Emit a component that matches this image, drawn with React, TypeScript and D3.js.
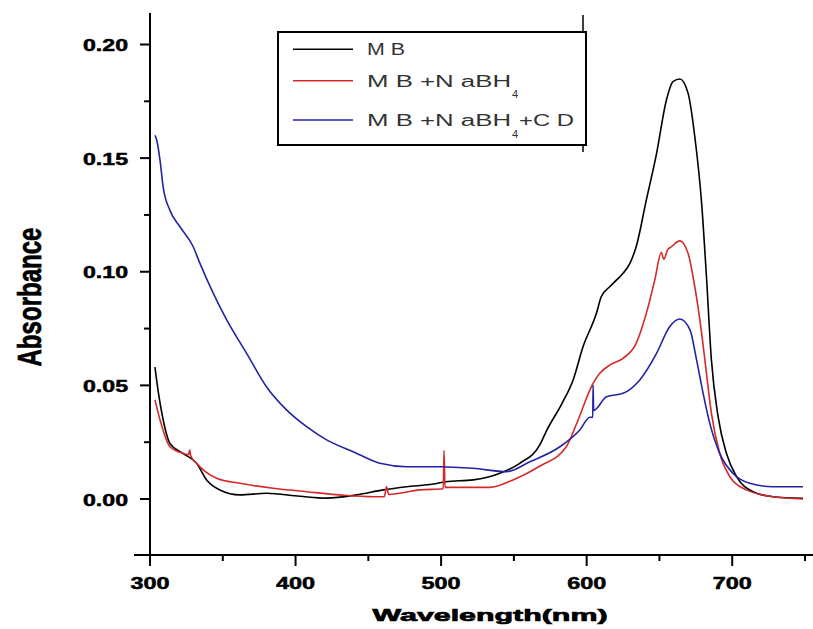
import React from "react";
import * as d3 from "d3";

// ---- data ----
const mbWave = [303.4, 305.7, 309, 313.7, 322.8, 332, 338.9, 348, 361.8, 380, 403, 421.3, 441.9, 460.2, 476.3, 494.6, 503, 522, 540.4, 554, 568, 572.4, 583, 590.7, 597.5, 606.7, 610, 616, 620.6, 625, 629.7, 634, 641, 648, 654.8, 659.3, 664, 669.7, 674.3, 679, 682.3, 685.7, 690.3, 696, 703, 714.3, 728, 748.6];
const mbAbs = [0.058, 0.047, 0.035, 0.0245, 0.02, 0.0157, 0.0084, 0.004, 0.0018, 0.0025, 0.0012, 0.0004, 0.0018, 0.004, 0.0054, 0.0066, 0.0076, 0.0084, 0.0113, 0.0157, 0.024, 0.03, 0.042, 0.0524, 0.067, 0.0817, 0.089, 0.0935, 0.0964, 0.0993, 0.1037, 0.111, 0.1316, 0.152, 0.1756, 0.1837, 0.1848, 0.1785, 0.1594, 0.13, 0.0978, 0.0612, 0.0362, 0.0201, 0.0098, 0.0032, 0.001, 0.0003];

const redWave = [303.4, 306.9, 313.7, 322.8, 326.5, 327.2, 328, 332, 345.8, 361.8, 384.6, 407.6, 430.5, 453.3, 461, 462.5, 464, 485.4, 501.5, 502, 502.7, 506, 533.5, 549.4, 568, 586, 593, 604.4, 609, 616, 625, 634, 641, 646.8, 651.3, 653, 655.5, 658.2, 664, 669.7, 674.3, 679, 682.3, 685.7, 691.4, 698.4, 709.8, 728, 748.6];
const redAbs = [0.0436, 0.0348, 0.023, 0.0201, 0.0195, 0.0215, 0.019, 0.0157, 0.0091, 0.0069, 0.0047, 0.0032, 0.0018, 0.001, 0.001, 0.0054, 0.002, 0.004, 0.0045, 0.0213, 0.0051, 0.0051, 0.0051, 0.0084, 0.0145, 0.023, 0.033, 0.0509, 0.0553, 0.059, 0.0619, 0.0685, 0.0817, 0.0964, 0.1085, 0.1055, 0.1095, 0.111, 0.1136, 0.108, 0.0934, 0.0729, 0.0553, 0.0377, 0.0201, 0.0098, 0.004, 0.001, 0.0];

const blueWave = [303.4, 304.6, 306.9, 309.1, 313.7, 320.6, 329.7, 334.3, 343.5, 352.7, 366.4, 380, 393.8, 407.6, 421.3, 439.6, 458, 476.3, 499, 521.8, 545, 561, 581.6, 595.3, 602.2, 604.2, 604.4, 604.8, 613.6, 625, 636.5, 648, 657, 664, 671, 675.5, 680, 684.6, 691.4, 700.5, 712, 728, 748.6];
const blueAbs = [0.16, 0.158, 0.149, 0.137, 0.127, 0.1198, 0.111, 0.1037, 0.0905, 0.0788, 0.0641, 0.0494, 0.0392, 0.0318, 0.026, 0.0208, 0.0157, 0.0142, 0.0142, 0.0135, 0.012, 0.0164, 0.023, 0.0304, 0.036, 0.036, 0.05, 0.039, 0.045, 0.0465, 0.0524, 0.0641, 0.0758, 0.0792, 0.0744, 0.0612, 0.0465, 0.0333, 0.0201, 0.0113, 0.0069, 0.0054, 0.0054];

const xMajorTicks = [300, 400, 500, 600, 700];
const xMinorTicks = [350, 450, 550, 650, 750];
const yMajorTicks = [0, 0.05, 0.1, 0.15, 0.2];
const yMinorTicks = [0.025, 0.075, 0.125, 0.175];
const yTickLabels = ["0.00", "0.05", "0.10", "0.15", "0.20"];

const seriesNames = ["M B", "M B +N aBH", "M B +N aBH"];
const seriesColors = ["#000000", "#d42a2a", "#2323a6"];

export default function App() {
  const x = d3.scaleLinear().domain([300, 750]).range([150, 805]);
  const y = d3.scaleLinear().domain([0, 0.2]).range([499, 44.5]);

  const line = d3
    .line<[number, number]>()
    .x((d) => x(d[0]))
    .y((d) => y(d[1]))
    .curve(d3.curveMonotoneX);

  const series = [
    mbWave.map((w, i) => [w, mbAbs[i]] as [number, number]),
    redWave.map((w, i) => [w, redAbs[i]] as [number, number]),
    blueWave.map((w, i) => [w, blueAbs[i]] as [number, number]),
  ];

  const font = "'Liberation Sans', Arial, sans-serif";
  const axisY = 555;
  const axisX = 150;

  return (
    <svg
      width={813}
      height={629}
      style={{ position: "absolute", left: 0, top: 0, background: "#fff" }}
      fontFamily={font}
    >
      <rect x={0} y={0} width={813} height={629} fill="#fff" />
      {/* axes */}
      <line x1={axisX} x2={axisX} y1={13} y2={axisY} stroke="#000" strokeWidth={2} />
      <line x1={134} x2={813} y1={axisY} y2={axisY} stroke="#000" strokeWidth={2} />

      {yMajorTicks.map((t, i) => (
        <g key={"ym" + t}>
          <line x1={axisX - 10} x2={axisX} y1={y(t)} y2={y(t)} stroke="#000" strokeWidth={2} />
          <text
            x={128}
            y={y(t) + 6.5}
            textAnchor="end"
            fontSize={17}
            fontWeight="bold"
            textLength={45}
            lengthAdjust="spacingAndGlyphs"
            stroke="#000"
            strokeWidth={0.5}
          >
            {yTickLabels[i]}
          </text>
        </g>
      ))}
      {yMinorTicks.map((t) => (
        <line key={"yn" + t} x1={axisX - 6} x2={axisX} y1={y(t)} y2={y(t)} stroke="#000" strokeWidth={2} />
      ))}
      {xMajorTicks.map((t) => (
        <g key={"xm" + t}>
          <line x1={x(t)} x2={x(t)} y1={axisY} y2={axisY + 11} stroke="#000" strokeWidth={2} />
          <text
            x={x(t)}
            y={588.5}
            textAnchor="middle"
            fontSize={16}
            fontWeight="bold"
            textLength={39}
            lengthAdjust="spacingAndGlyphs"
            stroke="#000"
            strokeWidth={0.5}
          >
            {t}
          </text>
        </g>
      ))}
      {xMinorTicks.map((t) => (
        <line key={"xn" + t} x1={x(t)} x2={x(t)} y1={axisY} y2={axisY + 6} stroke="#000" strokeWidth={2} />
      ))}

      {/* axis titles */}
      <text
        x={490}
        y={621}
        textAnchor="middle"
        fontSize={17}
        fontWeight="bold"
        textLength={235}
        lengthAdjust="spacingAndGlyphs"
        stroke="#000"
        strokeWidth={0.7}
      >
        Wavelength(nm)
      </text>
      <text
        transform="translate(41,297) rotate(-90)"
        textAnchor="middle"
        fontSize={34}
        fontWeight="bold"
        textLength={139}
        lengthAdjust="spacingAndGlyphs"
        stroke="#000"
        strokeWidth={0.7}
      >
        Absorbance
      </text>

      {/* curves */}
      {series.map((s, i) => (
        <path key={"s" + i} d={line(s) || ""} fill="none" stroke={seriesColors[i]} strokeWidth={1.6} strokeLinejoin="round" />
      ))}

      {/* legend */}
      <line x1={583} x2={583} y1={15} y2={32} stroke="#000" strokeWidth={1.5} />
      <line x1={583} x2={583} y1={145} y2={152} stroke="#000" strokeWidth={1.5} />
      <rect x={278} y={32} width={308} height={113} fill="#fff" stroke="#000" strokeWidth={2} />
      {[49.3, 80.7, 120].map((ly, i) => (
        <line key={"ll" + i} x1={293} x2={353} y1={ly} y2={ly} stroke={seriesColors[i]} strokeWidth={1.6} />
      ))}
      <text x={367} y={55} fontSize={16} fill="#333" textLength={38} lengthAdjust="spacingAndGlyphs">
        {seriesNames[0]}
      </text>
      <text x={367} y={86.7} fontSize={16} fill="#333" textLength={144} lengthAdjust="spacingAndGlyphs">
        {seriesNames[1]}
      </text>
      <text x={512} y={98} fontSize={11} fill="#333">4</text>
      <text x={367} y={126} fontSize={16} fill="#333" textLength={144} lengthAdjust="spacingAndGlyphs">
        {seriesNames[2]}
      </text>
      <text x={512} y={138} fontSize={11} fill="#333">4</text>
      <text x={519} y={126} fontSize={16} fill="#333" textLength={55} lengthAdjust="spacingAndGlyphs">
        +C D
      </text>
    </svg>
  );
}
